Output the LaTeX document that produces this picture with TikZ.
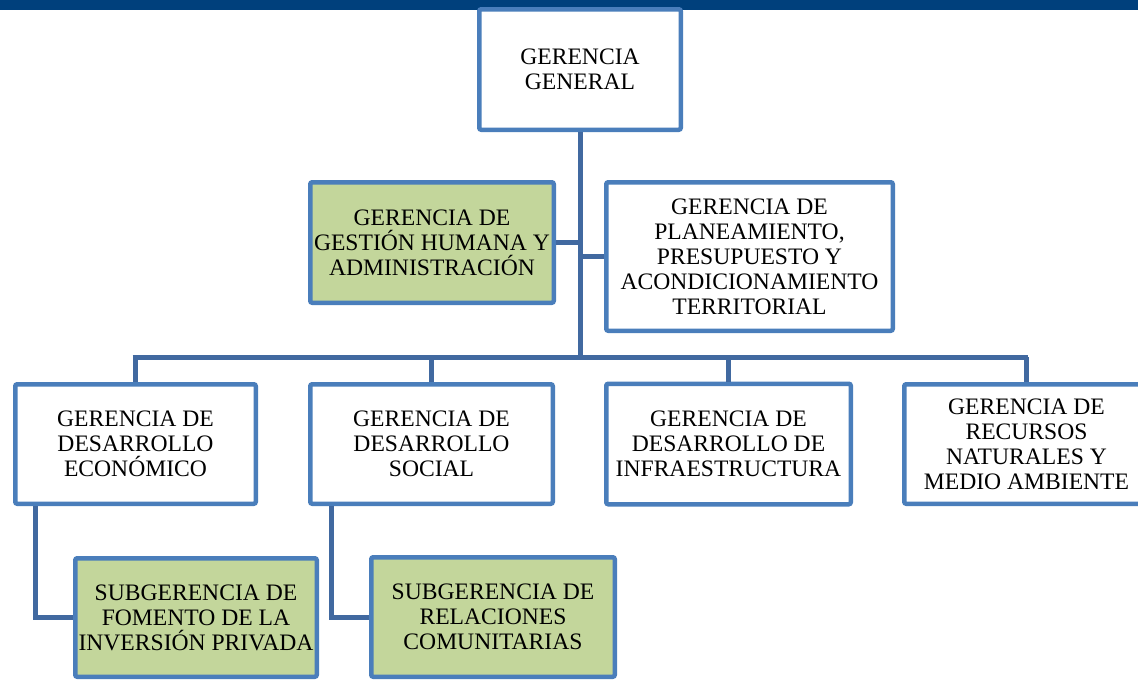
\documentclass[tikz,border=0pt]{standalone}
\usepackage{fontspec}
\setmainfont{Liberation Serif}
\definecolor{barblue}{RGB}{0,64,124}
\definecolor{boxborder}{RGB}{74,126,187}
\definecolor{linkblue}{RGB}{65,105,160}
\definecolor{boxgreen}{RGB}{195,214,155}
\tikzset{
  orgbox/.style={draw=boxborder, line width=4.5pt, fill=white, rounded corners=2pt,
    inner sep=0pt, align=center, text=black,
    font=\fontsize{23.6}{25}\selectfont},
  greenbox/.style={orgbox, fill=boxgreen},
  link/.style={draw=linkblue, line width=5pt}
}
\begin{document}
\begin{tikzpicture}[x=1pt,y=-1pt]
\useasboundingbox (0,0) rectangle (1138,680);
\clip (0,0) rectangle (1138,680);
\fill[barblue] (0,0) rectangle (1138,9.5);
% connectors first
\coordinate (busL) at (135,357);
\coordinate (busR) at (1025,357);
\node[orgbox, minimum width=201.5, minimum height=120.5] (gg) at (580,69.5) {GERENCIA\\GENERAL};
\node[greenbox, minimum width=243.5, minimum height=120.5] (gha) at (432,242.5) {GERENCIA DE\\GESTIÓN HUMANA Y\\ADMINISTRACIÓN};
\node[orgbox, minimum width=286.5, minimum height=148.5] (ppat) at (749.5,256.5) {GERENCIA DE\\PLANEAMIENTO,\\PRESUPUESTO Y\\ACONDICIONAMIENTO\\TERRITORIAL};
\node[orgbox, minimum width=240.5, minimum height=119.5] (gde) at (135.5,444) {GERENCIA DE\\DESARROLLO\\ECONÓMICO};
\node[orgbox, minimum width=242.5, minimum height=119.5] (gds) at (431.5,444) {GERENCIA DE\\DESARROLLO\\SOCIAL};
\node[orgbox, minimum width=244.5, minimum height=120.5] (gdi) at (728.5,444) {GERENCIA DE\\DESARROLLO DE\\INFRAESTRUCTURA};
\node[orgbox, minimum width=244.5, minimum height=119.5] (grn) at (1026.5,444) {GERENCIA DE\\RECURSOS\\NATURALES Y\\MEDIO AMBIENTE};
\node[greenbox, minimum width=241.5, minimum height=118.5] (sub1) at (196,617.5) {SUBGERENCIA DE\\FOMENTO DE LA\\INVERSIÓN PRIVADA};
\node[greenbox, minimum width=243.5, minimum height=119.5] (sub2) at (493,617) {SUBGERENCIA DE\\RELACIONES\\COMUNITARIAS};
\begin{scope}[on background layer/.style={}]
\end{scope}
\draw[link] (gg.south) -- (gg.south |- busL);
\draw[link] (gha.east) -- (gha.east -| gg.south);
\draw[link] (ppat.west) -- (ppat.west -| gg.south);
\draw[link] ([xshift=-2.5pt]busL) -- ([xshift=2.5pt]busR);
\draw[link] (gde.north) -- (gde.north |- busL);
\draw[link] (gds.north) -- (gds.north |- busL);
\draw[link] (gdi.north) -- (gdi.north |- busL);
\draw[link] (grn.north) -- (grn.north |- busL);
\draw[link] ([xshift=22.75pt]gde.south west) |- (sub1.west);
\draw[link] ([xshift=23.75pt]gds.south west) |- (sub2.west);
\end{tikzpicture}
\end{document}
